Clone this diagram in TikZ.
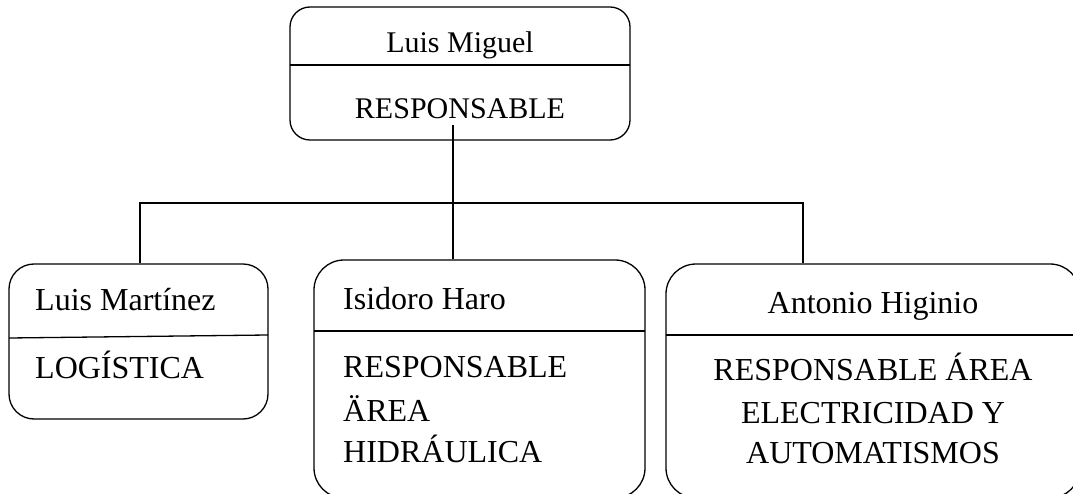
\documentclass[tikz,border=0pt]{standalone}
\usepackage{fontspec}
\setmainfont{Liberation Serif}
\tikzset{
  box/.style={draw, line width=1.3pt, inner sep=0pt},
  big/.style={font=\fontsize{32}{42}\selectfont, inner sep=0pt},
  topf/.style={font=\fontsize{30}{36}\selectfont, inner sep=0pt},
  wire/.style={line width=1.3pt},
}
\begin{document}
\begin{tikzpicture}[x=1pt,y=-1pt]
\useasboundingbox (0,0) rectangle (1073,494);
\clip (0,0) rectangle (1073,494);
% boxes
\node[box, rounded corners=20pt, minimum width=340pt, minimum height=133pt] (top) at (460,73.5) {};
\node[box, rounded corners=25pt, minimum width=259pt, minimum height=155pt] (b1) at (138.5,341.5) {};
\node[box, rounded corners=30pt, minimum width=331pt, minimum height=238pt] (b2) at (479.5,379) {};
\node[box, rounded corners=30pt, minimum width=414pt, minimum height=234pt] (b3) at (873,381) {};
% dividers
\draw[wire] (290,65) -- (630,65);
\draw[wire] (9,338) -- (268,335);
\draw[wire] (314,331) -- (645,331);
\draw[wire] (666,335) -- (1080,335);
% texts
\node[topf, anchor=base] (n0) at (460,53) {Luis Miguel};
\node[topf, anchor=base] (r0) at (460,119) {RESPONSABLE};
\node[big, anchor=base west] (n1) at (35,310) {Luis Martínez};
\node[big, anchor=base west] (r1) at (35,378) {LOGÍSTICA};
\node[big, anchor=base west] (n2) at (343,309) {Isidoro Haro};
\node[big, anchor=base west] (r2a) at (343,377) {RESPONSABLE};
\node[big, anchor=base west] (r2b) at (343,421) {ÄREA};
\node[big, anchor=base west] (r2c) at (343,462) {HIDRÁULICA};
\node[big, anchor=base] (n3) at (873,313) {Antonio Higinio};
\node[big, anchor=base] (r3a) at (873,380) {RESPONSABLE ÁREA};
\node[big, anchor=base] (r3b) at (873,423) {ELECTRICIDAD Y};
\node[big, anchor=base] (r3c) at (873,463) {AUTOMATISMOS};
% connectors
\coordinate (stem) at (453,125);
\coordinate (bus) at (453,203);
\coordinate (j1) at (140,203);
\coordinate (j3) at (803,203);
\draw[wire] (stem) -- (bus);
\draw[wire] (j1 |- b1.north) -- (j1) -- (j3) -- (j3 |- b3.north);
\draw[wire] (bus) -- (bus |- b2.north);
\end{tikzpicture}
\end{document}
